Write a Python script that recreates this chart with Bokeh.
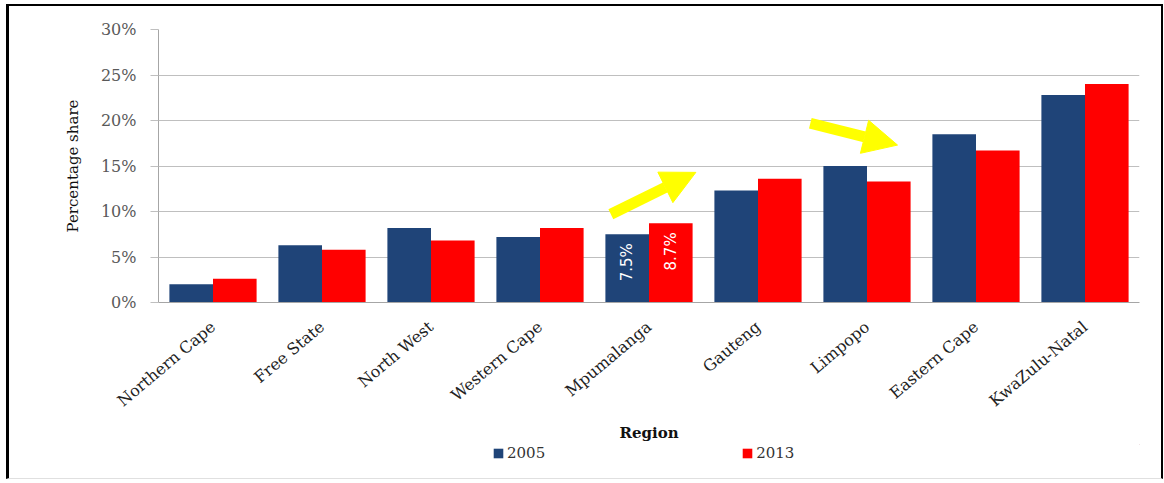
import math
from bokeh.plotting import figure
from bokeh.layouts import column
from bokeh.models import (ColumnDataSource, FactorRange, Range1d, Legend, LegendItem,
                          Arrow, NormalHead)
from bokeh.transform import dodge
from bokeh.embed import file_html
from bokeh.resources import INLINE
from bokeh.core.properties import value

# ---- data ----
regions = ["Northern Cape", "Free State", "North West", "Western Cape", "Mpumalanga",
           "Gauteng", "Limpopo", "Eastern Cape", "KwaZulu-Natal"]
share_2005 = [2.0, 6.3, 8.2, 7.2, 7.5, 12.3, 15.0, 18.5, 22.8]
share_2013 = [2.6, 5.8, 6.8, 8.2, 8.7, 13.6, 13.3, 16.7, 24.0]
years = ["2005", "2013"]
y_ticks = [0, 5, 10, 15, 20, 25, 30]
y_tick_labels = ["0%", "5%", "10%", "15%", "20%", "25%", "30%"]
labelled_region = "Mpumalanga"
# annotation arrows: (x_start, y_start, x_end, y_end) in category units / percent
arrows = [(4.15, 9.7, 4.93, 14.3), (5.98, 19.7, 6.78, 17.3)]

BLUE = "#1F4478"
RED = "#FF0000"
SERIF = "DejaVu Serif"
W = 1152

src = ColumnDataSource(dict(region=regions, y2005=share_2005, y2013=share_2013))
i = regions.index(labelled_region)
lab_src = ColumnDataSource(dict(region=[regions[i]], y2005=[share_2005[i]], y2013=[share_2013[i]],
                                t2005=[f"{share_2005[i]}%"], t2013=[f"{share_2013[i]}%"]))

p = figure(x_range=FactorRange(factors=regions), y_range=Range1d(0, 30),
           width=W, height=438, output_backend="svg", toolbar_location=None,
           min_border_left=149, min_border_right=22, min_border_top=23, min_border_bottom=100)

r1 = p.vbar(x=dodge("region", -0.2, range=p.x_range), top="y2005", width=0.4,
            source=src, fill_color=BLUE, line_color=None)
r2 = p.vbar(x=dodge("region", 0.2, range=p.x_range), top="y2013", width=0.4,
            source=src, fill_color=RED, line_color=None)

p.text(x=dodge("region", -0.2, range=p.x_range), y="y2005", text="t2005", source=lab_src,
       angle=math.pi / 2, text_align="right", text_baseline="middle", y_offset=9,
       text_color="white", text_font=value("DejaVu Sans"), text_font_size="15px")
p.text(x=dodge("region", 0.2, range=p.x_range), y="y2013", text="t2013", source=lab_src,
       angle=math.pi / 2, text_align="right", text_baseline="middle", y_offset=9,
       text_color="white", text_font=value("DejaVu Sans"), text_font_size="15px")

for (xs, ys, xe, ye) in arrows:
    p.add_layout(Arrow(x_start=xs, y_start=ys, x_end=xe, y_end=ye,
                       line_color="#FFFF00", line_width=11,
                       end=NormalHead(size=34, fill_color="#FFFF00", line_color="#FFFF00")))

# axes
p.xgrid.grid_line_color = None
p.ygrid.grid_line_color = "#BFBFBF"
p.ygrid.grid_line_width = 1.2
p.yaxis.ticker = y_ticks
p.yaxis.major_label_overrides = {t: l for t, l in zip(y_ticks, y_tick_labels)}
p.yaxis.major_tick_out = 8
p.yaxis.major_tick_in = 0
p.yaxis.minor_tick_line_color = None
p.yaxis.major_tick_line_color = "#BFBFBF"
p.yaxis.axis_line_color = "#A6A6A6"
p.yaxis.major_label_standoff = 14
p.yaxis.major_label_text_font = SERIF
p.yaxis.major_label_text_font_size = "16px"
p.yaxis.major_label_text_color = "#595959"
p.yaxis.axis_label = "Percentage share"
p.yaxis.axis_label_text_font = SERIF
p.yaxis.axis_label_text_font_style = "normal"
p.yaxis.axis_label_text_font_size = "15px"
p.yaxis.axis_label_text_color = "#111111"
p.yaxis.axis_label_standoff = 16

p.xaxis.major_label_orientation = 0.7
p.xaxis.major_tick_line_color = None
p.xaxis.axis_line_color = "#A6A6A6"
p.xaxis.major_label_text_font = SERIF
p.xaxis.major_label_text_font_size = "16px"
p.xaxis.major_label_text_color = "#222222"
p.xaxis.major_label_standoff = 16
p.xaxis.axis_label = "Region"
p.xaxis.axis_label_text_font = SERIF
p.xaxis.axis_label_text_font_style = "bold"
p.xaxis.axis_label_text_font_size = "15px"
p.xaxis.axis_label_text_color = "#111111"
p.xaxis.axis_label_standoff = 3

p.outline_line_color = None

# legend strip under the chart
pl = figure(width=W, height=34, output_backend="svg", toolbar_location=None,
            x_range=Range1d(0, 1), y_range=Range1d(0, 1), min_border=0,
            x_axis_location=None, y_axis_location=None)
pl.grid.visible = False
pl.outline_line_color = None
l1 = pl.vbar(x=[5], top=[5], bottom=[4], width=0.1, fill_color=BLUE, line_color=None)
l2 = pl.vbar(x=[5], top=[5], bottom=[4], width=0.1, fill_color=RED, line_color=None)
legend = Legend(items=[LegendItem(label=years[0], renderers=[l1]),
                       LegendItem(label=years[1], renderers=[l2])],
                orientation="horizontal", location=(334, 16), spacing=196,
                glyph_width=12, glyph_height=12, label_standoff=3,
                label_text_font=SERIF, label_text_font_size="15px",
                label_text_color="#333333", border_line_color=None,
                background_fill_alpha=0, padding=2, margin=0)
pl.add_layout(legend, "center")

layout = column(p, pl, spacing=0,
                styles={"border-left": "3px solid black", "border-top": "2px solid black",
                        "border-right": "2px solid black", "border-bottom": "1px solid #E0E0E0",
                        "margin-left": "6px", "margin-top": "4px"})

open("out.html", "w").write(file_html(layout, INLINE))
